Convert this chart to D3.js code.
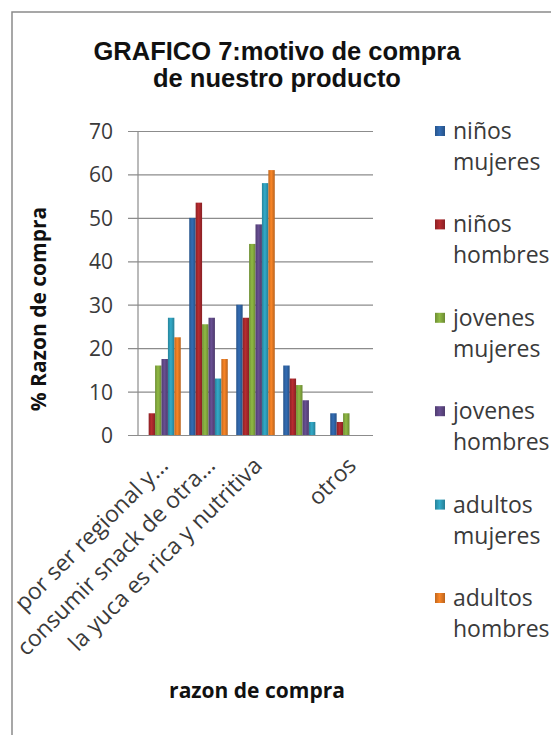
<!DOCTYPE html>
<html>
<head>
<meta charset="utf-8">
<title>GRAFICO 7</title>
<script src="https://d3js.org/d3.v7.min.js"></script>
<style>
  body { margin: 0; background: #fff; }
  svg { display: block; }
  .tick text, .cat text { font-family: "Open Sans", sans-serif; fill: #3a3a3a; }
  .legend text { font-family: "Open Sans", sans-serif; font-size: 23px; fill: #3a3a3a; }
  .axis-title { font-family: "Open Sans", sans-serif; font-weight: bold; font-size: 21px; fill: #111; }
  .title { font-family: "Liberation Sans", Arial, sans-serif; font-weight: bold; font-size: 25.5px; fill: #111; }
</style>
</head>
<body>
<script>
var width = 551;
var height = 735;

// data
var categories = ["por ser regional y...", "consumir snack de otra...", "la yuca es rica y nutritiva", "", "otros"];
var seriesNames = [["niños", "mujeres"], ["niños", "hombres"], ["jovenes", "mujeres"],
                   ["jovenes", "hombres"], ["adultos", "mujeres"], ["adultos", "hombres"]];
var ninosMujeres   = [0, 50, 30, 16, 5];
var ninosHombres   = [5, 53.5, 27, 13, 3];
var jovenesMujeres = [16, 25.5, 44, 11.5, 5];
var jovenesHombres = [17.5, 27, 48.5, 8, 0];
var adultosMujeres = [27, 13, 58, 3, 0];
var adultosHombres = [22.5, 17.5, 61, 0, 0];
var yTicks = [0, 10, 20, 30, 40, 50, 60, 70];
var colors = ["#2f64a6", "#a8282c", "#84aa3e", "#5f4886", "#2f9cb8", "#e57b24"];

var seriesValues = [ninosMujeres, ninosHombres, jovenesMujeres, jovenesHombres, adultosMujeres, adultosHombres];

var plot = {left: 138, right: 373, top: 131, bottom: 435};

var svg = d3.select('body').append('svg')
    .attr('width', width)
    .attr('height', height);

// chart frame
svg.append('rect')
    .attr('x', 12).attr('y', 12)
    .attr('width', 560).attr('height', 760)
    .attr('fill', '#fff')
    .attr('stroke', '#8a8a8a')
    .attr('stroke-width', 1.5);

// gradients to mimic the shaded bars
var defs = svg.append('defs');
colors.forEach(function (c, i) {
    var g = defs.append('linearGradient')
        .attr('id', 'grad' + i)
        .attr('x1', 0).attr('x2', 1).attr('y1', 0).attr('y2', 0);
    g.append('stop').attr('offset', '0%').attr('stop-color', d3.color(c).darker(0.5));
    g.append('stop').attr('offset', '45%').attr('stop-color', d3.color(c).brighter(0.25));
    g.append('stop').attr('offset', '100%').attr('stop-color', d3.color(c).darker(0.6));
});

var x0 = d3.scaleBand()
    .domain(d3.range(categories.length))
    .range([plot.left, plot.right]);

var x1 = d3.scaleBand()
    .domain(d3.range(seriesValues.length))
    .range([0, x0.bandwidth() * 0.82]);

var y = d3.scaleLinear()
    .domain([0, 70])
    .range([plot.bottom, plot.top]);

// y axis with gridlines
var yAxis = svg.append('g')
    .attr('transform', 'translate(' + plot.left + ',0)')
    .call(d3.axisLeft(y)
        .tickValues(yTicks)
        .tickSize(-(plot.right - plot.left))
        .tickSizeOuter(0)
        .tickPadding(25));
yAxis.select('.domain').remove();
yAxis.selectAll('.tick line')
    .attr('x1', -10)
    .attr('stroke', '#8c8c8c')
    .attr('stroke-width', 1.2);
yAxis.selectAll('.tick text')
    .attr('font-size', 21)
    .attr('dy', '0.36em');

svg.append('line')
    .attr('x1', plot.left).attr('x2', plot.left)
    .attr('y1', plot.top).attr('y2', plot.bottom)
    .attr('stroke', '#8c8c8c')
    .attr('stroke-width', 1.2);

// bars
var groups = svg.append('g').selectAll('g')
    .data(seriesValues)
    .join('g')
    .attr('fill', function (d, i) { return 'url(#grad' + i + ')'; });

groups.selectAll('rect')
    .data(function (d, i) { return d.map(function (v, j) { return {s: i, c: j, v: v}; }); })
    .join('rect')
    .attr('x', function (d) { return x0(d.c) + x0.bandwidth() * 0.09 + x1(d.s); })
    .attr('width', x1.bandwidth())
    .attr('y', function (d) { return y(d.v); })
    .attr('height', function (d) { return y(0) - y(d.v); });

// category labels
svg.append('g').attr('class', 'cat')
    .selectAll('text')
    .data(categories)
    .join('text')
    .attr('transform', function (d, i) {
        return 'translate(' + (x0(i) + x0.bandwidth() / 2 + 8) + ',' + 467 + ') rotate(-45)';
    })
    .attr('text-anchor', 'end')
    .attr('font-size', 23)
    .text(function (d) { return d; });

// titles
svg.append('text').attr('class', 'title')
    .attr('x', 277).attr('y', 60)
    .attr('text-anchor', 'middle')
    .text('GRAFICO 7:motivo de compra');
svg.append('text').attr('class', 'title')
    .attr('x', 277).attr('y', 87)
    .attr('text-anchor', 'middle')
    .text('de nuestro producto');

svg.append('text').attr('class', 'axis-title')
    .attr('transform', 'translate(46,309) rotate(-90)')
    .attr('text-anchor', 'middle')
    .text('% Razon de compra');

svg.append('text').attr('class', 'axis-title')
    .attr('x', 257).attr('y', 698)
    .attr('text-anchor', 'middle')
    .text('razon de compra');

// legend
var legend = svg.append('g').attr('class', 'legend')
    .selectAll('g')
    .data(seriesNames)
    .join('g')
    .attr('transform', function (d, i) { return 'translate(435,' + (131 + i * 93.4) + ')'; });

legend.append('rect')
    .attr('x', 0).attr('y', -5)
    .attr('width', 10).attr('height', 10)
    .attr('fill', function (d, i) { return 'url(#grad' + i + ')'; });

legend.append('text')
    .attr('x', 18)
    .attr('dy', '0.35em')
    .text(function (d) { return d[0]; });

legend.append('text')
    .attr('x', 18)
    .attr('y', 31)
    .attr('dy', '0.35em')
    .text(function (d) { return d[1]; });
</script>
</body>
</html>
